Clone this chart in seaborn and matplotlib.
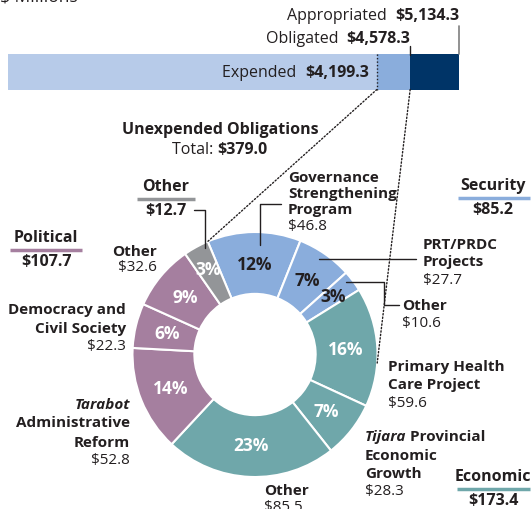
import numpy as np
import pandas as pd
import seaborn as sns
import matplotlib.pyplot as plt
from matplotlib import transforms
from matplotlib.patches import ConnectionPatch

# Funding stages ($ millions)
stages = ["Appropriated", "Obligated", "Expended"]
amounts = [5134.3, 4578.3, 4199.3]
bar_colors = ["#003467", "#8aaddc", "#b7cbe9"]

# Unexpended obligations by program
slice_values = [46.8, 27.7, 10.6, 59.6, 28.3, 85.5, 52.8, 22.3, 32.6, 12.7]
slice_groups = ["Security"] * 3 + ["Economic"] * 3 + ["Political"] * 3 + ["Other"]
group_names = ["Security", "Economic", "Political", "Other"]
group_totals = [85.2, 173.4, 107.7, 12.7]
unexpended_total = 379.0
group_colors = {"Security": "#8aaddc", "Economic": "#6fa7aa",
                "Political": "#a57f9f", "Other": "#939598"}

sns.set_theme(style="white")
plt.rcParams['font.family'] = ['Open Sans', 'DejaVu Sans']
plt.rcParams['text.parse_math'] = False
INK = "#231f20"

W, H = 532, 510
fig = plt.figure(figsize=(W / 100, H / 100), dpi=100)


def px_axes(x0, y0, x1, y1):
    return fig.add_axes([x0 / W, 1 - y1 / H, (x1 - x0) / W, (y1 - y0) / H])


# ---- stacked funding bar
bar_ax = px_axes(8, 55, 459, 90.5)
df_bar = pd.DataFrame({"stage": stages, "amount": amounts, "row": "all"})
for stage, c in zip(stages, bar_colors):
    sns.barplot(data=df_bar[df_bar.stage == stage], x="amount", y="row", orient="h",
                color=c, saturation=1, width=1, errorbar=None, linewidth=0, ax=bar_ax)
bar_ax.set_xlim(0, amounts[0])
bar_ax.set_ylim(0.5, -0.5)
bar_ax.axis("off")

# ---- donut
pie_ax = px_axes(132.5, 233, 377.5, 478)
total = sum(slice_values)
wedges, _ = pie_ax.pie(slice_values, colors=[group_colors[g] for g in slice_groups],
                       startangle=112.7, counterclock=False, radius=1,
                       wedgeprops=dict(width=0.505, edgecolor="white", linewidth=1.5))
for w in wedges:
    w.set_clip_on(False)
pie_ax.set_xlim(-1, 1)
pie_ax.set_ylim(-1, 1)
for w, v, g in zip(wedges, slice_values, slice_groups):
    a = np.deg2rad((w.theta1 + w.theta2) / 2)
    r = 0.8 if v / total < 0.04 else 0.74
    pie_ax.text(r * np.cos(a), r * np.sin(a), f"{v / total * 100:.0f}%",
                ha="center", va="center", fontsize=12.5, fontweight="bold",
                color=INK if g == "Security" else "white")

# ---- overlay in pixel coordinates
ann = fig.add_axes([0, 0, 1, 1])
ann.set_xlim(0, W)
ann.set_ylim(H, 0)
ann.axis("off")
ann.patch.set_alpha(0)

FS = 11
HS = 11.5


def label(x, ys, lines, ha="left"):
    for y, (txt, wt, st) in zip(ys, lines):
        ann.text(x, y, txt, ha=ha, va="center", fontsize=FS, fontweight=wt,
                 fontstyle=st, color=INK)


B, N, I = "bold", "normal", "italic"

# bar annotations
bx = transforms.blended_transform_factory(bar_ax.transData, ann.transData)
t = ann.text(amounts[0], 16, f"${amounts[0]:,.1f}", transform=bx, ha="right",
             va="center", fontsize=HS, fontweight="bold", color=INK)
ann.annotate("Appropriated  ", xy=(0, 0.5), xycoords=t, ha="right", va="center",
             fontsize=HS, color=INK)
t = ann.text(amounts[1], 39, f"${amounts[1]:,.1f}", transform=bx, ha="right",
             va="center", fontsize=HS, fontweight="bold", color=INK)
ann.annotate("Obligated  ", xy=(0, 0.5), xycoords=t, ha="right", va="center",
             fontsize=HS, color=INK)
t = ann.text(amounts[2], 73, f"${amounts[2]:,.1f}",
             transform=transforms.offset_copy(bx, fig=fig, x=-8, units="dots"),
             ha="right", va="center", fontsize=HS, fontweight="bold", color=INK)
ann.annotate("Expended  ", xy=(0, 0.5), xycoords=t, ha="right", va="center",
             fontsize=HS, color=INK)
ann.text(0, -3, "$ Millions", ha="left", va="center", fontsize=12.5, color=INK)

ann.plot([amounts[0]] * 2, [27, 55], transform=bx, color="#7f7f7f", lw=1.2)
ann.plot([amounts[1]] * 2, [47, 56], transform=bx, color=INK, lw=1)
ann.plot([amounts[2]] * 2, [55, 90.5], transform=bx, color=INK, lw=1, ls=(0, (1, 1.5)))

# dotted zoom lines from bar to donut
b_left = np.deg2rad(wedges[-1].theta1)
for xa, xyb in [(amounts[2], (np.cos(b_left), np.sin(b_left))),
                (amounts[1], (np.cos(np.deg2rad(-4)), np.sin(np.deg2rad(-4))))]:
    con = ConnectionPatch(xyA=(xa, 0.5), coordsA=bar_ax.transData, xyB=xyb,
                          coordsB=pie_ax.transData, color=INK, lw=1, ls=(0, (1, 1.5)))
    fig.add_artist(con)

# titles
ann.text(220.5, 130, "Unexpended Obligations", ha="center", va="center",
         fontsize=HS, fontweight="bold", color=INK)
t = ann.text(268, 150, f"${unexpended_total:.1f}", ha="right", va="center",
             fontsize=HS, fontweight="bold", color=INK)
ann.annotate("Total: ", xy=(0, 0.5), xycoords=t, ha="right", va="center",
             fontsize=HS, color=INK)

# group headings
group_pos = {"Security": (493, 186, 458, 530), "Economic": (493, 477, 457, 530),
             "Political": (46, 238, 10, 82), "Other": (166, 187, 137, 195)}
for g, gsum in zip(group_names, group_totals):
    cx, cy, x0, x1 = group_pos[g]
    ann.text(cx, cy, g, ha="center", va="center", fontsize=HS,
             fontweight="bold", color=INK)
    ann.plot([x0, x1], [cy + 12.5, cy + 12.5], color=group_colors[g], lw=2.5,
             solid_capstyle="butt")
    ann.text(cx, cy + 24, f"${gsum:.1f}", ha="center", va="center",
             fontsize=HS, fontweight="bold", color=INK)

# slice labels
v = slice_values
label(288, [178, 194, 210, 227],
      [("Governance", B, N), ("Strengthening", B, N), ("Program", B, N), (f"${v[0]}", N, N)])
label(423, [245, 262, 281], [("PRT/PRDC", B, N), ("Projects", B, N), (f"${v[1]}", N, N)])
label(402, [306, 324], [("Other", B, N), (f"${v[2]}", N, N)])
label(388, [367, 385, 404],
      [("Primary Health", B, N), ("Care Project", B, N), (f"${v[3]}", N, N)])
t = ann.text(365, 437, "Tijara", ha="left", va="center", fontsize=FS,
             fontweight="bold", fontstyle="italic", color=INK)
ann.annotate(" Provincial", xy=(1, 0.5), xycoords=t, ha="left", va="center",
             fontsize=FS, fontweight="bold", color=INK)
label(365, [456, 474, 492], [("Economic", B, N), ("Growth", B, N), (f"${v[4]}", N, N)])
label(264, [491, 508], [("Other", B, N), (f"${v[5]}", N, N)])
label(130, [405, 423, 443, 461],
      [("Tarabot", B, I), ("Administrative", B, N), ("Reform", B, N), (f"${v[6]}", N, N)],
      ha="right")
label(126, [310, 329, 347],
      [("Democracy and", B, N), ("Civil Society", B, N), (f"${v[7]}", N, N)], ha="right")
label(157, [252, 268], [("Other", B, N), (f"${v[8]}", N, N)], ha="right")

# leader lines
for xs, ys in [([281, 260, 260], [205, 205, 246]),
               ([319, 416], [260, 260]),
               ([346, 384, 384, 399], [283, 283, 306, 306]),
               ([194, 205, 205], [211, 211, 249])]:
    ann.plot(xs, ys, color=INK, lw=1)

fig.savefig("out.png", dpi=100)
